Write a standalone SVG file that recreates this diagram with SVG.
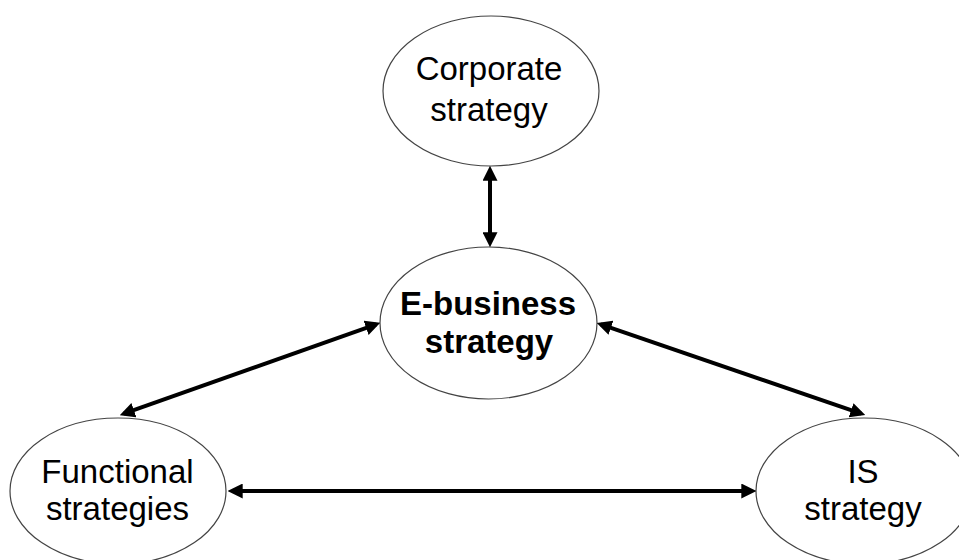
<svg xmlns="http://www.w3.org/2000/svg" width="959" height="560" viewBox="0 0 959 560">
<style>
.node{fill:#ffffff;stroke:#444444;stroke-width:1.2}
.t{font-family:"Liberation Sans",Arial,sans-serif;font-size:33px;fill:#000;text-anchor:middle}
.b{font-weight:bold}
.c{stroke:#000;stroke-width:4;fill:none;marker-start:url(#ah);marker-end:url(#ah)}
</style>
<defs>
<marker id="ah" markerUnits="userSpaceOnUse" markerWidth="15" markerHeight="15" refX="10" refY="7" orient="auto-start-reverse" viewBox="0 0 14 14">
<path d="M0,0 L14,7 L0,14 z" fill="#000"/>
</marker>
</defs>
<rect width="959" height="560" fill="#ffffff"/>
<g id="corporate">
<ellipse class="node" cx="491" cy="91" rx="108" ry="75"/>
<text class="t" x="489" y="80">Corporate</text>
<text class="t" x="489" y="121">strategy</text>
</g>
<g id="ebusiness">
<ellipse class="node" cx="488.5" cy="323" rx="108.5" ry="76"/>
<text class="t b" x="488" y="315">E-business</text>
<text class="t b" x="489" y="353">strategy</text>
</g>
<g id="functional">
<ellipse class="node" cx="118" cy="491" rx="108" ry="73"/>
<text class="t" x="117.5" y="483">Functional</text>
<text class="t" x="117.5" y="520">strategies</text>
</g>
<g id="is">
<ellipse class="node" cx="864" cy="491" rx="108" ry="73"/>
<text class="t" x="863" y="483">IS</text>
<text class="t" x="863" y="520">strategy</text>
</g>
<g id="connectors">
<line class="c" x1="490" y1="170" x2="490" y2="243"/>
<line class="c" x1="232" y1="491" x2="752" y2="491"/>
<line class="c" x1="376.2" y1="324.3" x2="123.8" y2="413.7"/>
<line class="c" x1="600.8" y1="324.3" x2="861.2" y2="413.7"/>
</g>
</svg>
